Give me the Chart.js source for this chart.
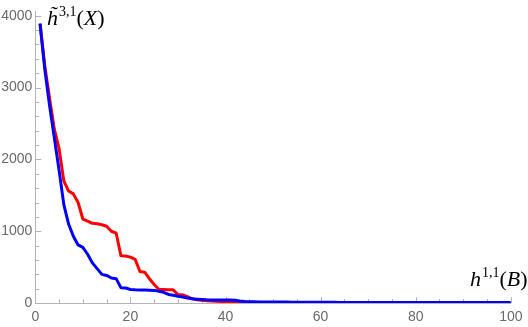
<!DOCTYPE html>
<html>
<head>
<meta charset="utf-8">
<script src="https://cdn.jsdelivr.net/npm/chart.js@4/dist/chart.umd.min.js"></script>
<style>
  html, body { margin: 0; padding: 0; background: #fff; }
  #wrap { position: relative; width: 528px; height: 327px; overflow: hidden; }
  canvas { position: absolute; left: 0; top: 0; }
  .lab { position: absolute; font-family: "Liberation Serif", "DejaVu Serif", serif; font-size: 22px; line-height: 22px; color: #000; white-space: nowrap; }
  .lab i { font-style: italic; }
  .lab .sup { position: relative; top: -9px; font-size: 14px; font-style: normal; margin-left: 1px; }
</style>
</head>
<body>
<div id="wrap">
  <canvas id="c" width="528" height="327"></canvas>
  <div class="lab" style="left:47px; top:6.6px;"><i>h&#771;</i><span class="sup">3,1</span>(<i>X</i>)</div>
  <div class="lab" style="left:470px; top:268.3px;"><i>h</i><span class="sup">1,1</span>(<i>B</i>)</div>
</div>
<script>
// ---- data ----
const xValues = [
  1,2,3,4,5,6,7,8,9,10,
  11,12,13,14,15,16,17,18,19,20,
  21,22,23,24,25,26,27,28,29,30,
  31,32,33,34,35,36,37,38,39,40,
  41,42,43,44,45,46,47,48,49,50,
  51,52,53,54,55,56,57,58,59,60,
  61,62,63,64,65,66,67,68,69,70,
  71,72,73,74,75,76,77,78,79,80,
  81,82,83,84,85,86,87,88,89,90,
  91,92,93,94,95,96,97,98,99,100
];
const redSeries = [
  3890,3300,2850,2420,2150,1700,1560,1520,1400,1170,
  1140,1110,1105,1090,1070,1000,975,660,655,640,
  610,440,430,340,260,190,188,187,185,120,
  115,90,60,45,38,32,28,25,22,20,
  18,17,15,13,12,10,9,8,7,6,
  6,6,5,5,5,5,5,4,4,4,
  4,4,4,4,3,3,3,3,3,3,
  3,3,3,3,3,3,3,3,3,3,
  2,2,2,2,2,2,2,2,2,2,
  2,2,2,2,2,2,2,2,2,2
];
const blueSeries = [
  3890,3250,2750,2300,1850,1370,1100,930,810,775,
  680,560,480,400,385,350,340,215,210,190,
  185,183,182,180,177,165,150,120,110,95,
  85,70,60,55,50,45,44,43,42,42,
  42,40,30,22,19,18,17,16,16,15,
  15,14,14,13,13,13,12,12,12,11,
  11,11,11,10,10,10,10,10,10,9,
  9,9,9,9,9,9,9,9,9,8,
  8,8,8,8,8,8,8,8,8,8,
  8,8,8,8,8,8,8,8,8,8
];
const xTickLabels = [0,20,40,60,80,100];
const yTickLabels = [0,1000,2000,3000,4000];
const xMinorStep = 5;
const yMinorStep = 200;

const axisColor = '#b4b4b4';
const labelColor = '#6a6a6a';

const innerTicks = {
  id: 'innerTicks',
  beforeDatasetsDraw(chart) {
    const {ctx, chartArea, scales} = chart;
    const xs = scales.x, ys = scales.y;
    ctx.save();
    ctx.strokeStyle = axisColor;
    ctx.lineWidth = 1;
    ctx.beginPath();
    for (let v = xs.min; v <= xs.max + 1e-9; v += xMinorStep) {
      const px = Math.round(xs.getPixelForValue(v)) + 0.5;
      const len = xTickLabels.includes(v) ? 6 : 4;
      ctx.moveTo(px, chartArea.bottom);
      ctx.lineTo(px, chartArea.bottom - len);
    }
    for (let v = 0; v <= yTickLabels[yTickLabels.length - 1] + 1e-9; v += yMinorStep) {
      const py = Math.round(ys.getPixelForValue(v)) + 0.5;
      const len = yTickLabels.includes(v) ? 6 : 4;
      ctx.moveTo(chartArea.left, py);
      ctx.lineTo(chartArea.left + len, py);
    }
    ctx.stroke();
    ctx.restore();
  }
};

new Chart(document.getElementById('c'), {
  type: 'line',
  data: {
    datasets: [
      {
        label: 'blue',
        data: xValues.map((x, i) => ({x: x, y: blueSeries[i]})),
        borderColor: '#0000ff',
        borderWidth: 3,
        pointRadius: 0,
        fill: false,
        tension: 0,
        borderJoinStyle: 'round',
        order: 0
      },
      {
        label: 'red',
        data: xValues.map((x, i) => ({x: x, y: redSeries[i]})),
        borderColor: '#ff0000',
        borderWidth: 3,
        pointRadius: 0,
        fill: false,
        tension: 0,
        borderJoinStyle: 'round',
        order: 1
      }
    ]
  },
  options: {
    responsive: false,
    animation: false,
    devicePixelRatio: 1,
    layout: { padding: { left: 0, right: 12.7, top: 3.5, bottom: 0 } },
    plugins: { legend: { display: false }, tooltip: { enabled: false } },
    scales: {
      x: {
        type: 'linear',
        min: 0,
        max: 100,
        grid: { display: false, drawTicks: false },
        border: { display: true, color: axisColor, width: 1 },
        afterBuildTicks(scale) { scale.ticks = xTickLabels.map(v => ({value: v})); },
        afterFit(scale) { scale.height = 23.9; },
        ticks: {
          color: labelColor,
          font: { family: 'Liberation Sans', size: 14 },
          padding: 5.5,
          maxRotation: 0,
          autoSkip: false,
          callback: v => String(v)
        }
      },
      y: {
        type: 'linear',
        min: 0,
        max: 4060,
        grid: { display: false, drawTicks: false },
        border: { display: true, color: axisColor, width: 1 },
        afterBuildTicks(scale) { scale.ticks = yTickLabels.map(v => ({value: v})); },
        afterFit(scale) { scale.width = 35.3; },
        ticks: {
          color: labelColor,
          font: { family: 'Liberation Sans', size: 14 },
          padding: 3,
          autoSkip: false,
          callback: v => String(v)
        }
      }
    }
  },
  plugins: [innerTicks]
});
</script>
</body>
</html>
